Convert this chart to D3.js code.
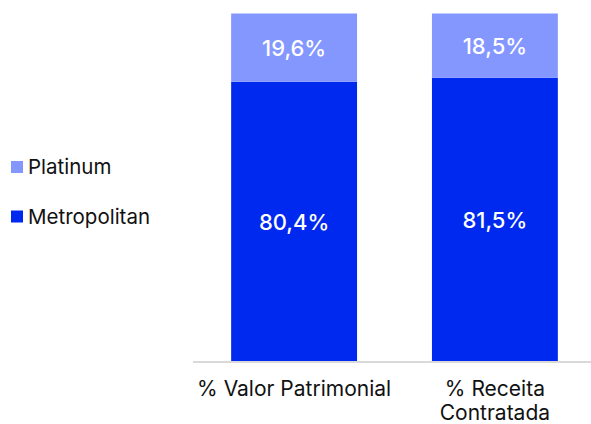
<!DOCTYPE html>
<html>
<head>
<meta charset="utf-8">
<script src="https://cdn.jsdelivr.net/npm/d3@7"></script>
<style>
  body { margin: 0; background: #fff; }
  svg { display: block; font-family: Inter, 'Noto Sans', sans-serif; }
</style>
</head>
<body>
<div id="chart"></div>
<script>
var categories = ['% Valor Patrimonial', '% Receita Contratada'];
var metropolitan = [80.4, 81.5];
var platinum = [19.6, 18.5];
var seriesNames = ['Metropolitan', 'Platinum'];
var colors = { Metropolitan: '#0029EF', Platinum: '#8497FF' };

var width = 591, height = 424;
var svg = d3.select('#chart').append('svg')
  .attr('width', width)
  .attr('height', height);

var rows = categories.map(function (c, i) {
  return { cat: c, Metropolitan: metropolitan[i], Platinum: platinum[i] };
});
var stack = d3.stack().keys(seriesNames)(rows);

var x = d3.scaleBand()
  .domain(categories)
  .range([193, 596])
  .paddingInner(0.373)
  .paddingOuter(0.19);
var y = d3.scaleLinear().domain([0, 100]).range([361.5, 13.5]);

var layers = svg.selectAll('g.layer')
  .data(stack)
  .enter().append('g')
  .attr('class', 'layer')
  .attr('fill', function (d) { return colors[d.key]; });

layers.selectAll('rect')
  .data(function (d) { return d; })
  .enter().append('rect')
  .attr('x', function (d) { return x(d.data.cat); })
  .attr('width', x.bandwidth())
  .attr('y', function (d) { return y(d[1]); })
  .attr('height', function (d) { return y(d[0]) - y(d[1]); });

layers.selectAll('text')
  .data(function (d) { return d; })
  .enter().append('text')
  .attr('x', function (d) { return x(d.data.cat) + x.bandwidth() / 2; })
  .attr('y', function (d) { return (y(d[0]) + y(d[1])) / 2 + 8.5; })
  .attr('text-anchor', 'middle')
  .attr('fill', '#fff')
  .attr('font-size', 22)
  .attr('font-weight', 500)
  .text(function (d) { return d3.format('.1f')(d[1] - d[0]).replace('.', ',') + '%'; });

// baseline axis
var axis = svg.append('g')
  .attr('transform', 'translate(0,' + y(0) + ')')
  .call(d3.axisBottom(x).tickSize(0).tickPadding(0));
axis.select('.domain')
  .attr('d', 'M193,0.5H591')
  .attr('stroke', '#d9d9d9')
  .attr('stroke-width', 2);
axis.selectAll('.tick text').each(function (d) {
  var t = d3.select(this);
  t.text(null)
    .attr('font-family', 'Inter, sans-serif')
    .attr('font-size', 21)
    .attr('fill', '#111')
    .attr('y', 34.5);
  var words = d.split(' ');
  var lines = d.length >= 20 ? [words.slice(0, 2).join(' '), words.slice(2).join(' ')] : [d];
  lines.forEach(function (line, i) {
    t.append('tspan')
      .attr('x', 0)
      .attr('dy', i === 0 ? 0 : 23.5)
      .text(line);
  });
});

// legend
var legend = svg.append('g');
var items = legend.selectAll('g')
  .data(seriesNames.slice().reverse())
  .enter().append('g')
  .attr('transform', function (d, i) { return 'translate(11,' + (161 + i * 49.5) + ')'; });
items.append('rect')
  .attr('width', 12)
  .attr('height', 12)
  .attr('fill', function (d) { return colors[d]; });
items.append('text')
  .attr('x', 17)
  .attr('y', 13)
  .attr('font-size', 20.5)
  .attr('fill', '#111')
  .text(function (d) { return d; });
</script>
</body>
</html>
